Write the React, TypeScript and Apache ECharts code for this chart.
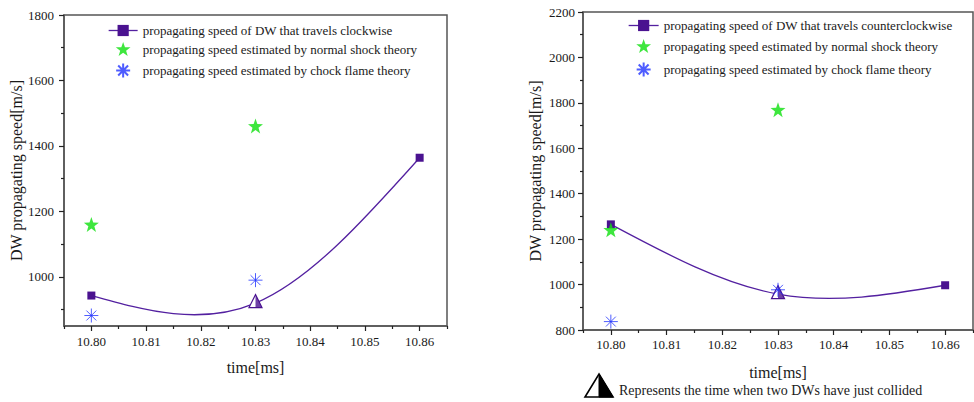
import React, { useEffect, useRef } from 'react';
import * as echarts from 'echarts';

// ---- data ----
const times = [10.8, 10.83, 10.86];
const theoryTimes = [10.8, 10.83];
const collisionIndex = 1;
const cwSpeed = [943, 920, 1364];
const cwShock = [1160, 1461];
const cwFlame = [882, 990];
const ccwSpeed = [1265, 958, 997];
const ccwShock = [1241, 1770];
const ccwFlame = [837, 977];

const xMajorTicks = [10.8, 10.81, 10.82, 10.83, 10.84, 10.85, 10.86];
const xMinorTicks = [10.795, 10.805, 10.815, 10.825, 10.835, 10.845, 10.855, 10.865];
const leftYMajor = [1000, 1200, 1400, 1600, 1800];
const leftYMinor = [900, 1100, 1300, 1500, 1700];
const rightYMajor = [800, 1000, 1200, 1400, 1600, 1800, 2000, 2200];
const rightYMinor = [900, 1100, 1300, 1500, 1700, 1900, 2100];

const nameCw = 'propagating speed of DW that travels clockwise';
const nameCcw = 'propagating speed of DW that travels counterclockwise';
const nameShock = 'propagating speed estimated by normal shock theory';
const nameFlame = 'propagating speed estimated by chock flame theory';
const xTitle = 'time[ms]';
const yTitle = 'DW propagating speed[m/s]';
const noteText = 'Represents the time when two DWs have just collided';

// ---- styles ----
const FONT = '"Liberation Serif", serif';
const PURPLE = '#4a1290';
const LINE_PURPLE = '#5320a0';
const GREEN = '#0ee00e';
const BLUE = '#2233ff';
const AXIS = '#555';
const TEXT = '#1a1a1a';
const STAR = 'path://M0,-10L2.35,-3.24L9.51,-3.09L3.8,1.24L5.88,8.09L0,4L-5.88,8.09L-3.8,1.24L-9.51,-3.09L-2.35,-3.24Z';
const ASTERISK = 'path://M0,-10L0,10M-10,0L10,0M-7.07,-7.07L7.07,7.07M-7.07,7.07L7.07,-7.07';
const HALF_TRI = 'path://M0,0L6,12L0,12Z';

// natural cubic spline slopes at each knot (Origin-style "Spline" connection)
function splineSlopes(xs: number[], ys: number[]) {
  const n = xs.length;
  const h: number[] = [];
  for (let i = 0; i < n - 1; i++) h.push(xs[i + 1] - xs[i]);
  const M = new Array(n).fill(0);
  if (n > 2) {
    const a: number[] = [], b: number[] = [], c: number[] = [], d: number[] = [];
    for (let i = 1; i < n - 1; i++) {
      a.push(h[i - 1] / 6);
      b.push((h[i - 1] + h[i]) / 3);
      c.push(h[i] / 6);
      d.push((ys[i + 1] - ys[i]) / h[i] - (ys[i] - ys[i - 1]) / h[i - 1]);
    }
    const m = b.length;
    for (let i = 1; i < m; i++) {
      const w = a[i] / b[i - 1];
      b[i] -= w * c[i - 1];
      d[i] -= w * d[i - 1];
    }
    const sol = new Array(m).fill(0);
    sol[m - 1] = d[m - 1] / b[m - 1];
    for (let i = m - 2; i >= 0; i--) sol[i] = (d[i] - c[i] * sol[i + 1]) / b[i];
    for (let i = 0; i < m; i++) M[i + 1] = sol[i];
  }
  const segs: { d0: number; d1: number }[] = [];
  for (let i = 0; i < n - 1; i++) {
    const s = (ys[i + 1] - ys[i]) / h[i];
    segs.push({ d0: s - (M[i] * h[i]) / 3 - (M[i + 1] * h[i]) / 6, d1: s + (M[i] * h[i]) / 6 + (M[i + 1] * h[i]) / 3 });
  }
  return segs;
}

function majorX(gridIndex: number, gap: number, labelMargin: number) {
  return {
    type: 'value', gridIndex, min: 10.795, max: 10.865, position: 'bottom',
    name: xTitle, nameLocation: 'middle', nameGap: gap,
    nameTextStyle: { fontFamily: FONT, fontSize: 16, color: TEXT, fontWeight: 'normal' },
    axisLine: { show: true, onZero: false, lineStyle: { color: AXIS, width: 1.5 } },
    axisTick: { show: true, length: 5, customValues: xMajorTicks, lineStyle: { color: '#222', width: 1.2 } },
    axisLabel: { show: true, customValues: xMajorTicks, margin: labelMargin, fontFamily: FONT, fontSize: 13, color: TEXT,
      fontWeight: 'normal', formatter: (v: number) => v.toFixed(2) },
    splitLine: { show: false },
  };
}
function minorX(gridIndex: number) {
  return {
    type: 'value', gridIndex, min: 10.795, max: 10.865, position: 'bottom', offset: 0,
    axisLine: { show: false, onZero: false },
    axisTick: { show: true, length: 3, customValues: xMinorTicks, lineStyle: { color: '#222', width: 1.2 } },
    axisLabel: { show: false },
    splitLine: { show: false },
  };
}
function majorY(gridIndex: number, min: number, max: number, ticks: number[], margin: number) {
  return {
    type: 'value', gridIndex, min, max, position: 'left',
    name: yTitle, nameLocation: 'middle', nameGap: 40,
    nameTextStyle: { fontFamily: FONT, fontSize: 16, color: TEXT, fontWeight: 'normal' },
    axisLine: { show: true, onZero: false, lineStyle: { color: AXIS, width: 1.5 } },
    axisTick: { show: true, length: 5, customValues: ticks, lineStyle: { color: '#222', width: 1.2 } },
    axisLabel: { show: true, customValues: ticks, margin, fontFamily: FONT, fontSize: 13, color: TEXT,
      fontWeight: 'normal', formatter: (v: number) => String(v) },
    splitLine: { show: false },
  };
}
function minorY(gridIndex: number, min: number, max: number, ticks: number[]) {
  return {
    type: 'value', gridIndex, min, max, position: 'left', offset: 0,
    axisLine: { show: false, onZero: false },
    axisTick: { show: true, length: 3, customValues: ticks, lineStyle: { color: '#222', width: 1.2 } },
    axisLabel: { show: false },
    splitLine: { show: false },
  };
}

function speedSeries(name: string, values: number[], axis: number) {
  return {
    type: 'line', name, xAxisIndex: axis, yAxisIndex: axis,
    symbol: 'rect', symbolSize: 8,
    lineStyle: { color: LINE_PURPLE, width: 1.3, opacity: 0 },
    itemStyle: { color: PURPLE },
    data: times.map((t, i) => i === collisionIndex
      ? { value: [t, values[i]], symbol: 'triangle', symbolSize: 13, symbolOffset: [0, -2],
          itemStyle: { color: '#fff', borderColor: PURPLE, borderWidth: 1.2 } }
      : [t, values[i]]),
    z: 3,
  };
}
function curveSeries(values: number[], axis: number) {
  const segs = splineSlopes(times, values);
  return {
    type: 'custom', name: 'spline' + axis, xAxisIndex: axis, yAxisIndex: axis, silent: true,
    data: times.map((t, i) => [t, values[i]]),
    encode: { x: 0, y: 1 },
    renderItem: (params: any, api: any) => {
      const i = params.dataIndex;
      if (i >= times.length - 1) return { type: 'group', children: [] };
      const x0 = times[i], x1 = times[i + 1];
      const y0 = values[i], y1 = values[i + 1];
      const hh = (x1 - x0) / 3;
      const p0 = api.coord([x0, y0]);
      const p1 = api.coord([x1, y1]);
      const c0 = api.coord([x0 + hh, y0 + segs[i].d0 * hh]);
      const c1 = api.coord([x1 - hh, y1 - segs[i].d1 * hh]);
      return {
        type: 'bezierCurve',
        shape: { x1: p0[0], y1: p0[1], x2: p1[0], y2: p1[1], cpx1: c0[0], cpy1: c0[1], cpx2: c1[0], cpy2: c1[1] },
        style: { stroke: LINE_PURPLE, lineWidth: 1.3, fill: 'none' },
      };
    },
    z: 2,
  };
}
function halfSeries(values: number[], axis: number) {
  return {
    type: 'scatter', name: 'collision' + axis, xAxisIndex: axis, yAxisIndex: axis,
    symbol: HALF_TRI, symbolSize: [6.5, 13], symbolOffset: [3.25, -2],
    itemStyle: { color: PURPLE },
    data: [[times[collisionIndex], values[collisionIndex]]],
    z: 4,
  };
}
function shockSeries(values: number[], axis: number) {
  return {
    type: 'scatter', name: nameShock, xAxisIndex: axis, yAxisIndex: axis,
    symbol: STAR, symbolSize: 15, itemStyle: { color: GREEN },
    data: theoryTimes.map((t, i) => [t, values[i]]), z: 5,
  };
}
function flameSeries(values: number[], axis: number) {
  return {
    type: 'scatter', name: nameFlame, xAxisIndex: axis, yAxisIndex: axis,
    symbol: ASTERISK, symbolSize: 14, itemStyle: { color: 'none', borderColor: BLUE, borderWidth: 1 },
    data: theoryTimes.map((t, i) => [t, values[i]]), z: 6,
  };
}

const legendLine = { color: LINE_PURPLE, width: 1.3, opacity: 1 };

export default function App() {
  const ref = useRef<HTMLDivElement>(null);
  useEffect(() => {
    if (!ref.current) return;
    const chart = echarts.init(ref.current, null, { renderer: 'svg' });
    chart.setOption({
      animation: false,
      backgroundColor: '#fff',
      textStyle: { fontFamily: FONT },
      grid: [
        { left: 64, top: 15, width: 383, height: 311, show: true, borderColor: AXIS, borderWidth: 1.5, backgroundColor: 'transparent' },
        { left: 583, top: 12, width: 390, height: 318, show: true, borderColor: AXIS, borderWidth: 1.5, backgroundColor: 'transparent' },
      ],
      xAxis: [majorX(0, 33, 9), minorX(0), majorX(1, 34, 8), minorX(1)],
      yAxis: [
        majorY(0, 850, 1800, leftYMajor, 10), minorY(0, 850, 1800, leftYMinor),
        majorY(1, 800, 2200, rightYMajor, 8), minorY(1, 800, 2200, rightYMinor),
      ],
      legend: [
        { data: [{ name: nameCw, lineStyle: legendLine }, nameShock, nameFlame], orient: 'vertical', left: 108, top: 24,
          padding: 0, itemWidth: 29, itemHeight: 14, itemGap: 5,
          textStyle: { fontFamily: FONT, fontSize: 13, color: TEXT }, selectedMode: false },
        { data: [{ name: nameCcw, lineStyle: legendLine }, nameShock, nameFlame], orient: 'vertical', left: 628, top: 19,
          padding: 0, itemWidth: 30, itemHeight: 14, itemGap: 7,
          textStyle: { fontFamily: FONT, fontSize: 13, color: TEXT }, selectedMode: false },
      ],
      series: [
        curveSeries(cwSpeed, 0), speedSeries(nameCw, cwSpeed, 0), halfSeries(cwSpeed, 0), shockSeries(cwShock, 0), flameSeries(cwFlame, 0),
        curveSeries(ccwSpeed, 2), speedSeries(nameCcw, ccwSpeed, 2), halfSeries(ccwSpeed, 2), shockSeries(ccwShock, 2), flameSeries(ccwFlame, 2),
      ],
      graphic: [
        { type: 'polygon', shape: { points: [[599, 374], [613, 397], [585, 397]] }, style: { fill: '#fff', stroke: '#000', lineWidth: 1.6 } },
        { type: 'polygon', shape: { points: [[599, 374], [613, 397], [599, 397]] }, style: { fill: '#000', stroke: '#000', lineWidth: 1 } },
        { type: 'text', style: { text: noteText, x: 619, y: 390, font: '14px "Liberation Serif", serif', fill: TEXT, verticalAlign: 'middle' } },
      ],
    });
    return () => chart.dispose();
  }, []);
  return <div ref={ref} style={{ position: 'fixed', left: 0, top: 0, width: 974, height: 402 }} />;
}
